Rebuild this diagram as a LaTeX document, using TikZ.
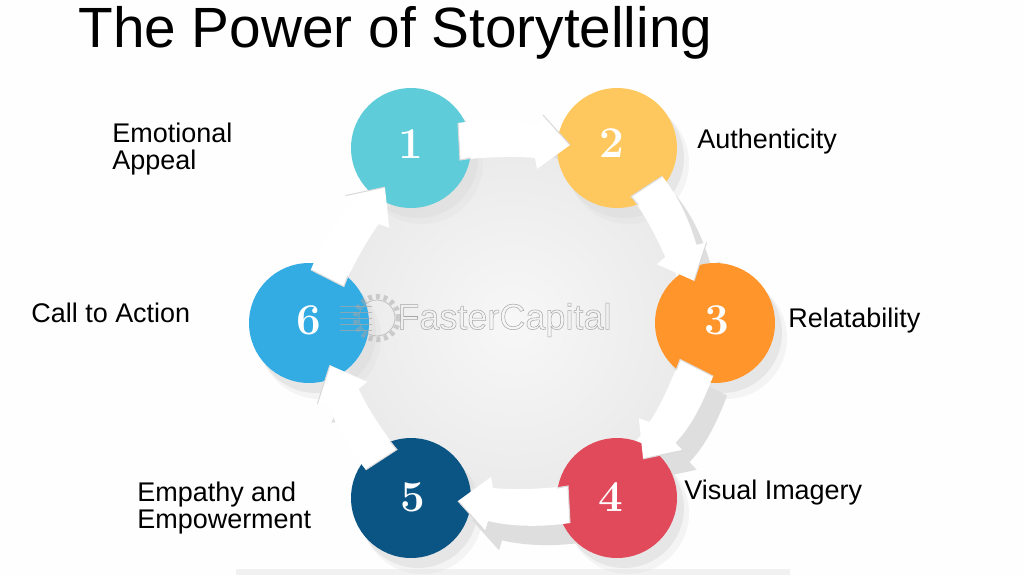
\documentclass[tikz,border=0pt]{standalone}
\usepackage{fontspec}
\setmainfont{Liberation Sans}
\newfontfamily\numfont{Latin Modern Roman}
\usetikzlibrary{calc}
\definecolor{tealdisc}{HTML}{5FCCD9}
\definecolor{yellowdisc}{HTML}{FFC85F}
\definecolor{orangedisc}{HTML}{FF952B}
\definecolor{reddisc}{HTML}{E14A5A}
\definecolor{navydisc}{HTML}{0B5585}
\definecolor{bluedisc}{HTML}{33ABE3}
\definecolor{shadowgray}{HTML}{DEDEDE}
\definecolor{edgegray}{HTML}{DADADA}
\definecolor{stripgray}{HTML}{F1F1F1}
\definecolor{markgray}{HTML}{A8A8A8}
\newcommand{\outlinetext}[1]{\special{pdf:code 1 Tr 0.3 w}#1\special{pdf:code 0 Tr}}
\newcommand{\ringshape}[2]{($(#1)+(47,-25)$) .. controls ($(#1)+(74,-29)$) and ($(#2)+(-102,-29)$) .. ($(#2)+(-77,-23)$)
  -- ($(#2)+(-74,-33)$) -- ($(#2)+(-47,-3)$) -- ($(#2)+(-80,21)$) -- ($(#2)+(-82,10)$)
  .. controls ($(#2)+(-102,8)$) and ($(#1)+(74,9)$) .. ($(#1)+(49,12)$) -- cycle}
\tikzset{
  number/.style={text=white,font=\fontsize{25}{25}\selectfont\bfseries\numfont},
  lbl/.style={anchor=west,align=left,inner sep=0pt,font=\fontsize{15.35}{15.3}\selectfont},
  disc/.style={circle,minimum size=2.4cm,inner sep=0pt},
  arrowedge/.style={draw=edgegray,line width=0.6pt}
}
\begin{document}
\begin{tikzpicture}[x=0.02cm,y=-0.02cm]
  \useasboundingbox (0,0) rectangle (1024,575);
  \fill[white!99.5!black] (0,0) rectangle (1024,575);
  \fill[stripgray] (236,569) rectangle (790,575);
  \coordinate (hub) at (513,323);
  \coordinate (c1) at (411,148);
  \coordinate (c2) at (617,148);
  \coordinate (c3) at (715,323);
  \coordinate (c4) at (617,498);
  \coordinate (c5) at (411,498);
  \coordinate (c6) at (309,323);

  % arrow shadows stay behind the hub
  \foreach \from/\to/\ang in {c1/c2/0,c2/c3/-60,c3/c4/-120,c4/c5/-180,c5/c6/-240,c6/c1/-300} {
    \begin{scope}[rotate=\ang]
      \fill[shadowgray,transform canvas={shift={(8pt,-11pt)}}] \ringshape{\from}{\to};
    \end{scope}
  }
  \shade[inner color=white!97!black,outer color=white!92!black] (hub) circle (3.4cm);

  % disc shadows
  \foreach \n in {c1,c2,c3,c4,c5,c6} {
    \fill[shadowgray,opacity=0.3] ($(\n)+(11,15)$) circle (1.22cm);
    \fill[shadowgray,opacity=0.6] ($(\n)+(7,10)$) circle (1.2cm);
  }

  % discs
  \node[disc,fill=tealdisc] (n1) at (c1) {};
  \node[disc,fill=yellowdisc] (n2) at (c2) {};
  \node[disc,fill=orangedisc] (n3) at (c3) {};
  \node[disc,fill=reddisc] (n4) at (c4) {};
  \node[disc,fill=navydisc] (n5) at (c5) {};
  \node[disc,fill=bluedisc] (n6) at (c6) {};

  % white arrows
  \foreach \from/\to/\ang in {c1/c2/0,c2/c3/-60,c3/c4/-120,c4/c5/-180,c5/c6/-240,c6/c1/-300} {
    \begin{scope}[rotate=\ang]
      \fill[white] \ringshape{\from}{\to};
      \draw[arrowedge] ($(\from)+(47,-25)$) -- ($(\from)+(49,12)$) -- ($(\from)+(60,10)$);
      \draw[arrowedge] ($(\to)+(-74,-33)$) -- ($(\to)+(-47,-3)$);
    \end{scope}
  }

  \node[number] (d1) at (411,144) {1};
  \node[number] (d2) at (612,143) {2};
  \node[number] (d3) at (717,320) {3};
  \node[number] (d4) at (611,497) {4};
  \node[number] (d5) at (413,497) {5};
  \node[number] (d6) at (309,320) {6};

  % watermark
  \draw[markgray,opacity=0.5,line width=3pt,dash pattern=on 2.2pt off 2.2pt] (377,318) circle (0.43cm);
  \draw[markgray,opacity=0.7,line width=0.4pt] (377,318) circle (0.36cm);
  \foreach \yy in {306,312,318,324,330} {
    \draw[markgray,opacity=0.7,line width=0.4pt] (340,\yy) -- (372,\yy);
  }
  \node[anchor=west,inner sep=0pt,text=markgray,font=\fontsize{20.5}{21}\selectfont] (mark) at (397,320) {\outlinetext{FasterCapital}};

  % labels
  \node[anchor=west,inner sep=0pt,font=\fontsize{32.3}{33}\selectfont] (title) at (78,33) {The Power of Storytelling};
  \node[lbl] (l1) at (112,149) {Emotional\\Appeal};
  \node[lbl] (l2) at (697,142) {Authenticity};
  \node[lbl] (l3) at (788,321) {Relatability};
  \node[lbl] (l4) at (684,493) {Visual Imagery};
  \node[lbl] (l5) at (137,508) {Empathy and\\Empowerment};
  \node[lbl] (l6) at (31,313) {Call to Action};
\end{tikzpicture}
\end{document}
